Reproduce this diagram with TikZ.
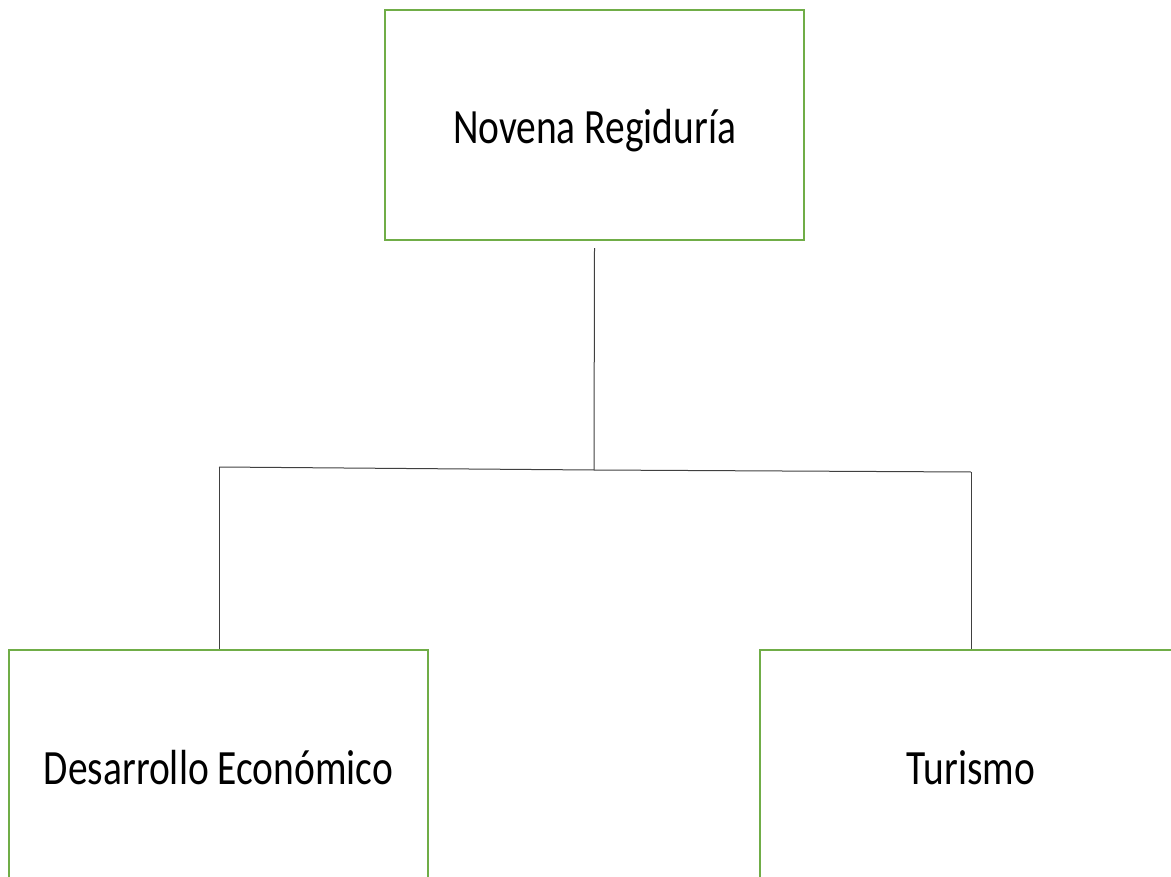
\documentclass[tikz,border=0pt]{standalone}
\usepackage{fontspec}
\setmainfont{Carlito}
\definecolor{boxgreen}{RGB}{112,173,71}
\newcommand{\narrowtext}[1]{\scalebox{0.8}[1]{#1}}
\tikzset{
  orgbox/.style={draw=boxgreen, line width=1.8pt, fill=white, inner sep=0pt,
    font=\fontsize{37}{42}\selectfont},
  orgline/.style={black!75, line width=0.75pt}
}
\begin{document}
\begin{tikzpicture}[x=0.75pt, y=-0.75pt]
  \def\pw{1171} \def\ph{877}
  \useasboundingbox (0,0) rectangle (\pw,\ph);
  \node[orgbox, minimum width=419*0.75pt, minimum height=230*0.75pt] (regiduria) at (594.5,125) {\raisebox{-14pt}[0pt][0pt]{\narrowtext{Novena Regiduría}}};
  \node[orgbox, minimum width=419*0.75pt, minimum height=236*0.75pt] (desarrollo) at (218.5,768) {\narrowtext{Desarrollo Económico}};
  \node[orgbox, minimum width=422*0.75pt, minimum height=236*0.75pt] (turismo) at (971,768) {\narrowtext{Turismo}};
  \coordinate (hub) at (594,470);
  \coordinate (lcorner) at (219,467);
  \coordinate (rcorner) at (971,472);
  \draw[orgline] ([yshift=-7*0.75pt]regiduria.south) -- (hub);
  \draw[orgline] (lcorner) -- (hub) -- (rcorner);
  \draw[orgline] (lcorner) -- (lcorner |- desarrollo.north);
  \draw[orgline] (rcorner) -- (rcorner |- turismo.north);
\end{tikzpicture}
\end{document}
